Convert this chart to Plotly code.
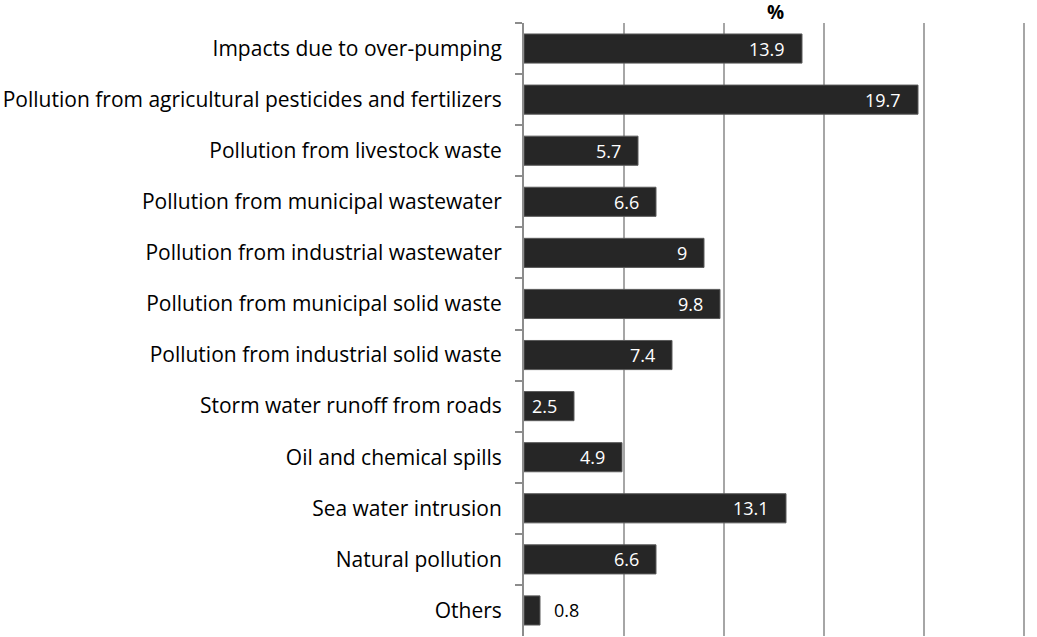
import plotly.graph_objects as go

categories = [
    "Impacts due to over-pumping",
    "Pollution from agricultural pesticides and fertilizers",
    "Pollution from livestock waste",
    "Pollution from municipal wastewater",
    "Pollution from industrial wastewater",
    "Pollution from municipal solid waste",
    "Pollution from industrial solid waste",
    "Storm water runoff from roads",
    "Oil and chemical spills",
    "Sea water intrusion",
    "Natural pollution",
    "Others",
]
values = [13.9, 19.7, 5.7, 6.6, 9, 9.8, 7.4, 2.5, 4.9, 13.1, 6.6, 0.8]

FONT = "Open Sans"

fig = go.Figure(
    go.Bar(
        x=values,
        y=categories,
        orientation="h",
        marker=dict(color="#262626", line=dict(color="#5a5a5a", width=1)),
        width=0.57,
        hoverinfo="skip",
    )
)

# value labels: white inside the bar end, black just past short bars
for cat, v in zip(categories, values):
    inside = v >= 1.5
    fig.add_annotation(
        x=v, y=cat, xref="x", yref="y",
        text=str(v),
        showarrow=False,
        xanchor="right" if inside else "left",
        xshift=-15 if inside else 12,
        font=dict(family=FONT, size=18, color="white" if inside else "black"),
    )

fig.add_annotation(
    x=0.5, y=1.0, xref="paper", yref="paper",
    text="<b>%</b>", showarrow=False,
    xanchor="center", yanchor="middle", yshift=11,
    font=dict(family=FONT, size=19, color="black"),
)

fig.update_layout(
    width=1037, height=637,
    margin=dict(l=524, r=11, t=23, b=1),
    plot_bgcolor="white", paper_bgcolor="white",
    showlegend=False,
    font=dict(family=FONT, size=21, color="black"),
)
fig.update_xaxes(
    range=[0, 25.1], tickvals=[5, 10, 15, 20, 25], showticklabels=False,
    showgrid=True, gridcolor="#a6a6a6", gridwidth=2,
    zeroline=False, showline=False, fixedrange=True,
)
fig.update_yaxes(
    autorange="reversed", showline=True, linecolor="#8c8c8c", linewidth=2,
    ticks="outside", tickson="boundaries", ticklen=7, tickcolor="#8c8c8c", tickwidth=2,
    ticklabelstandoff=16, showgrid=False, fixedrange=True,
    tickfont=dict(family=FONT, size=21, color="black"),
)

fig.write_html("out.html")
